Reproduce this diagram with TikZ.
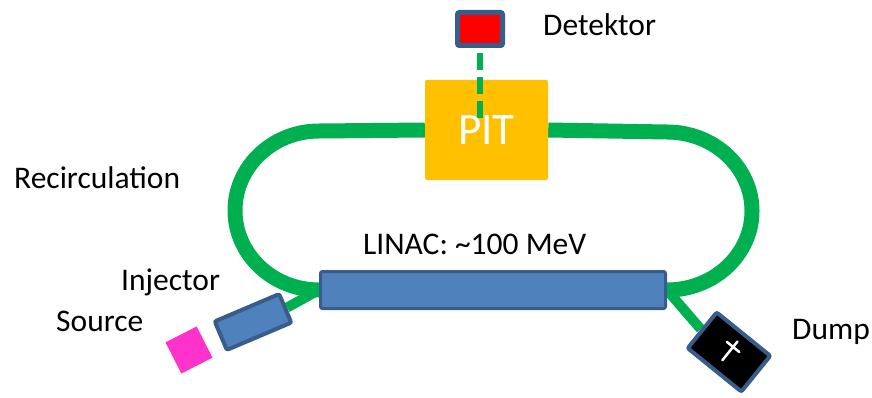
\documentclass[tikz,border=0pt]{standalone}
\usepackage{fontspec}
\setmainfont{Carlito}
\usetikzlibrary{backgrounds,calc,positioning}
\definecolor{ringgreen}{HTML}{00B050}
\definecolor{boxblue}{HTML}{4F81BD}
\definecolor{edgeblue}{HTML}{385D8A}
\definecolor{pitorange}{HTML}{FFC000}
\definecolor{srcpink}{HTML}{FF33CC}
\tikzset{%
  lbl/.style   = {inner sep=0pt, anchor=base west, font=\fontsize{31.5}{38}\selectfont},
  elem/.style  = {rectangle, draw=edgeblue, line width=4pt, rounded corners=2pt, inner sep=0pt},
  beam/.style  = {draw=ringgreen, line width=15pt},
  feed/.style  = {draw=ringgreen, line width=10pt},
  probe/.style = {draw=ringgreen, line width=6pt, dash pattern=on 17pt off 7pt}
}

\begin{document}
\begin{tikzpicture}[x=1pt,y=1pt]
  \useasboundingbox (0,0) rectangle (872,397);
  % machine parts
  \node[elem, fill=boxblue, line width=3pt, minimum width=345pt, minimum height=37pt] (linac) at (493,107) {};
  \node[rectangle, fill=pitorange, rounded corners=2pt, minimum width=123pt, minimum height=100pt,
        text=white, font=\fontsize{45}{52}\selectfont] (pit) at (486.5,267) {PIT};
  \node[elem, fill=red, minimum width=45pt, minimum height=33pt, line width=5pt] (det) at (480,368) {};
  \node[elem, fill=boxblue, minimum width=70pt, minimum height=31pt, rotate=23] (inj) at (253,75) {};
  \node[rectangle, fill=srcpink, minimum size=35pt, inner sep=0pt, rotate=27] (src) at (189,47) {};
  \node[elem, fill=black, minimum width=69pt, minimum height=46pt, rotate=-39] (dump) at (729,45) {};
  % recirculation ring
  \begin{scope}[on background layer]
    \draw[beam] (linac.west) arc[start angle=270, end angle=90, x radius=84, y radius=79.5] -- (pit.west);
    \draw[beam] (linac.east) arc[start angle=-90, end angle=90, x radius=85, y radius=79] -- (pit.east);
    \draw[feed] (inj.east) -- (linac.west);
    \draw[feed] (dump.west) -- (linac.east);
  \end{scope}
  % detector line
  \coordinate (tap) at ($(det.south |- pit.center)+(0,12)$);
  \draw[probe] ([yshift=-5pt]det.south) -- (tap);
  % cross on the dump
  \begin{scope}[shift={(dump.center)}, rotate=-39]
    \draw[white, line width=2.5pt, line cap=round] (0,-10.6) -- (0,13.5) (-8,6.5) -- (8,6.5);
  \end{scope}
  % labels
  \node[lbl] (detlbl) at (543,361) {Detektor};
  \node[lbl] (linaclbl) at (363,143) {LINAC: \textasciitilde100 MeV};
  \node[lbl] (recirc) at (14,209) {Recirculation};
  \node[lbl] (injlbl) at (121,107) {Injector};
  \node[lbl] (srclbl) at (56,66) {Source};
  \node[lbl] (dumplbl) at (792,58) {Dump};
\end{tikzpicture}
\end{document}
